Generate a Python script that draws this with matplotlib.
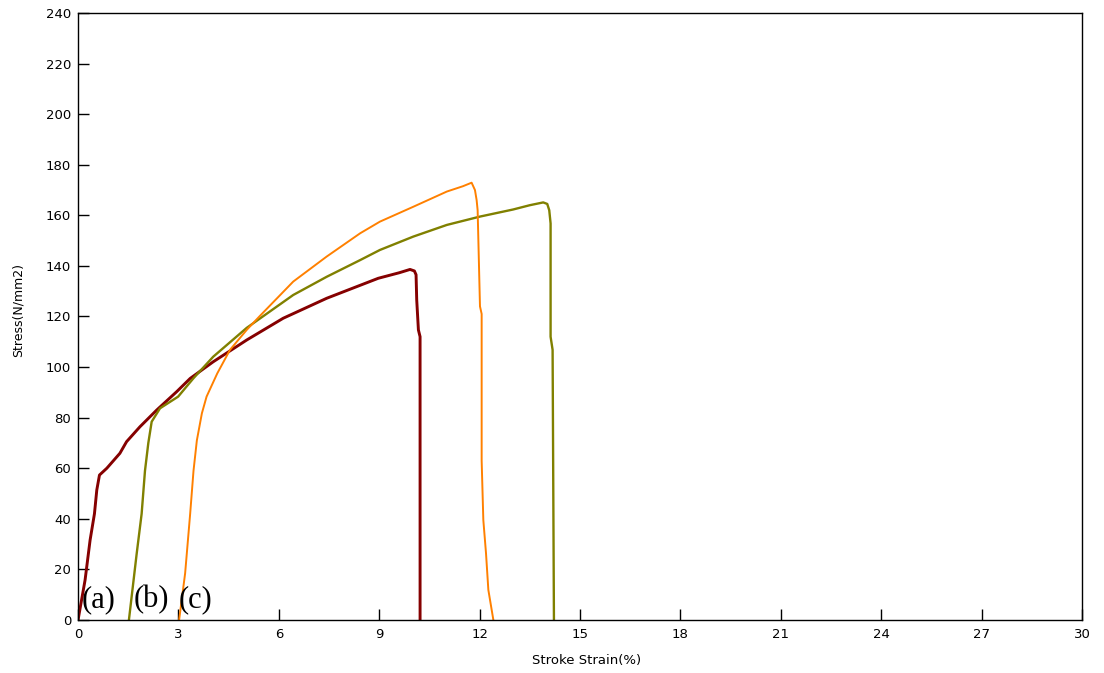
import matplotlib
matplotlib.use("Agg")
import matplotlib.pyplot as plt

# ---- data ----
strain_a = [0.0, 0.21, 0.36, 0.49, 0.56, 0.64, 0.86, 1.25, 1.45, 1.85, 2.35, 2.95,
            3.35, 4.04, 5.04, 6.13, 7.43, 8.97, 9.6, 9.92, 10.05, 10.1,
            10.12, 10.17, 10.22, 10.22]
stress_a = [0, 15.8, 31.6, 42, 51.4, 57.3, 60, 65.9, 70.5, 76.4, 83, 90.3,
            95.5, 102.1, 110.7, 119.3, 127.2, 135.1, 137.3, 138.6, 138.0, 136.5,
            126.5, 114.7, 112, 0]

strain_b = [1.52, 1.75, 1.90, 2.0, 2.10, 2.20, 2.45, 2.99, 3.45, 4.04, 5.04, 6.43,
            7.43, 8.43, 9.02, 10.02, 11.02, 12.01, 13.0, 13.5, 13.9, 14.02, 14.08,
            14.12, 14.12, 14.18, 14.2, 14.22]
stress_b = [0, 26, 42, 59, 70, 78.4, 83.7, 88.3, 95.6, 104.1, 115.5, 128.5,
            135.7, 142.3, 146.3, 151.6, 156.2, 159.5, 162.3, 164, 165.1, 164.5, 162,
            156.8, 112, 106.8, 52.7, 0]

strain_c = [3.02, 3.2, 3.35, 3.45, 3.55, 3.70, 3.84, 4.16, 4.54, 5.04, 5.44, 6.43,
            7.43, 8.43, 9.02, 10.02, 11.02, 11.5, 11.76, 11.86, 11.91, 11.94, 12.01,
            12.06, 12.06, 12.11, 12.19, 12.26, 12.41]
stress_c = [0, 18.5, 42, 59, 71, 81.7, 88.3, 97.5, 106.8, 114.7, 120.3, 133.8,
            143.7, 152.9, 157.5, 163.4, 169.4, 171.5, 172.9, 170, 166, 162, 124,
            121, 63, 39.5, 26.4, 11.9, 0]

series_labels = ["(a)", "(b)", "(c)"]
x_ticks = [0, 3, 6, 9, 12, 15, 18, 21, 24, 27, 30]
y_ticks = [0, 20, 40, 60, 80, 100, 120, 140, 160, 180, 200, 220, 240]

# ---- drawing ----
plt.rcParams['font.family'] = ['DejaVu Sans']
fig = plt.figure(figsize=(11.04, 6.73), dpi=100)
ax = fig.add_axes([0.0707, 0.0788, 0.9094, 0.9019])

ax.plot(strain_a, stress_a, color='#850000', lw=2.1, solid_joinstyle='round')
ax.plot(strain_b, stress_b, color='#808000', lw=1.7, solid_joinstyle='round')
ax.plot(strain_c, stress_c, color='#FF8000', lw=1.4, solid_joinstyle='round')

ax.set_xlim(0, 30)
ax.set_ylim(0, 240)
ax.set_xticks(x_ticks)
ax.set_yticks(y_ticks)
ax.tick_params(direction='in', length=8, width=1, labelsize=9.5, colors='black')
ax.tick_params(axis='y', pad=5)
ax.tick_params(axis='x', pad=6)
for s in ax.spines.values():
    s.set_linewidth(1.0)

ax.set_xlabel("Stroke Strain(%)", fontsize=9.5, va='top')
ax.xaxis.set_label_coords(0.506, -0.056)
ax.set_ylabel("Stress(N/mm2)", fontsize=9)
ax.yaxis.set_label_coords(-0.053, 0.51)

for lab, xs in zip(series_labels, [0.12, 1.65, 3.02]):
    ax.text(xs, 5.0, lab, fontsize=22, family=['Liberation Serif', 'DejaVu Serif'],
            va='baseline', ha='left')

fig.savefig("out.png", dpi=100)
